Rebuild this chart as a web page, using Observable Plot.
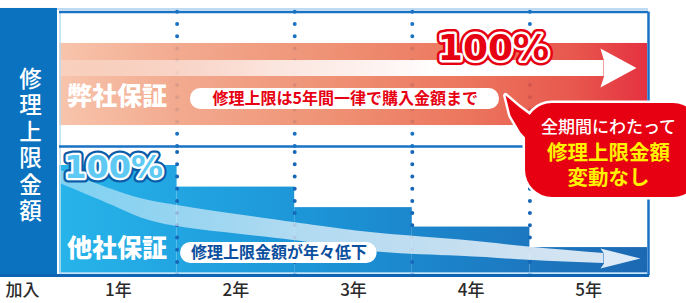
<!DOCTYPE html>
<html><head><meta charset="utf-8">
<script src="https://cdn.jsdelivr.net/npm/d3@7"></script>
<script src="https://cdn.jsdelivr.net/npm/@observablehq/plot@0.6"></script>
<style>
html,body{margin:0;padding:0;background:#fff;}
#chart{width:686px;height:303px;overflow:hidden;}
</style></head><body><div id="chart"></div>
<script>
// ---- data ----
const periodLabels = ["加入", "1年", "2年", "3年", "4年", "5年"];
const labelPos = [-0.315, 0.5, 1.5, 2.5, 3.5, 4.5];
const years = [1, 2, 3, 4, 5];
const ourLimit = [100, 100, 100, 100, 100];     // 弊社保証 (%)
const otherLimit = [100, 80, 61, 43, 24];       // 他社保証 (%)
const yearBoundaries = [1, 2, 3, 4];
const titleText = "修理上限金額";
const ourName = "弊社保証";
const otherName = "他社保証";
const ourNote = "修理上限は5年間一律で購入金額まで";
const otherNote = "修理上限金額が年々低下";
const calloutLines = ["全期間にわたって", "修理上限金額", "変動なし"];

// ---- layout (x in years, y in % units of the lower panel) ----
const JP = "'Noto Sans CJK JP', 'Noto Sans', sans-serif";
const NUM = "'DejaVu Sans', sans-serif";
const BLUE = "#1a72c4";
const Y0 = -2.78, YTOP = 245.37;
const PANEL_SPLIT = 117.6, PANEL_TOP = 242.1, XR = 5.0085;
const one = o => [o];

const otherBars = years.map((yr, i) => ({x1: yr - 1, x2: yr, v: otherLimit[i]}));
const ourBar = {x1: 0, x2: d3.max(years), y1: 137, y2: 213};

const bandPts = [
  {x: 0.01, hi: 95.4, lo: 83},
  {x: 0.52, hi: 75, lo: 59.5},
  {x: 1.0, hi: 63, lo: 43.5},
  {x: 1.99, hi: 47.2, lo: 30.6},
  {x: 2.73, hi: 37, lo: 19.6},
  {x: 3.41, hi: 31, lo: 16},
  {x: 3.99, hi: 24.5, lo: 12.2},
  {x: 4.63, hi: 18.5, lo: 9.3}
];
const bandHead = [
  {x: 4.63, y: 18.5}, {x: 4.60, y: 23.1}, {x: 4.94, y: 13.9}, {x: 4.60, y: 4.6}, {x: 4.63, y: 9.3}
];
const redHead = [
  {x: 4.63, y: 197.2}, {x: 4.60, y: 208.3}, {x: 4.906, y: 190.3}, {x: 4.60, y: 172.2}, {x: 4.63, y: 182.4}
];
const tail = [
  {x: 3.793, y: 164.8}, {x: 3.835, y: 146.3}, {x: 3.92, y: 130.6}, {x: 4.022, y: 118.5},
  {x: 4.26, y: 123.1}, {x: 4.26, y: 150.9}, {x: 4.116, y: 154.6}, {x: 4.005, y: 146.3}, {x: 3.903, y: 154.6}
];

const dots = {stroke: BLUE, strokeWidth: 4, strokeDasharray: "0,12.2", strokeLinecap: "round"};

const plot = Plot.plot({
  width: 686, height: 303,
  marginLeft: 59, marginRight: 39, marginTop: 8, marginBottom: 27,
  x: {domain: [0, 5], axis: null},
  y: {domain: [Y0, YTOP], axis: null},
  style: {background: "white", overflow: "visible"},
  marks: [
    // left title band
    Plot.rect(one({}), {x1: () => -0.502, x2: () => -0.017, y1: () => -3.7, y2: () => 245.4, fill: "#0b72bf"}),
    // top outer light line
    Plot.ruleY([245.0], {x1: -0.017, x2: XR, stroke: "#a9cfee", strokeWidth: 1.5}),
    // dotted year boundaries (upper panel, behind bar)
    Plot.ruleX(yearBoundaries, {y1: PANEL_SPLIT, y2: PANEL_TOP, ...dots}),
    // 弊社保証 bar
    Plot.rect(one(ourBar), {x1: "x1", x2: "x2", y1: "y1", y2: "y2", fill: "url(#redGrad)", fillOpacity: 0.9}),
    Plot.rect(one({}), {x1: () => 0, x2: () => 4.63, y1: () => 182.4, y2: () => 197.2, fill: "url(#shaftGrad)"}),
    Plot.line(redHead, {x: "x", y: "y", fill: "white", curve: "linear-closed"}),
    // 他社保証 bars
    Plot.rect(otherBars, {x1: "x1", x2: "x2", y1: 0, y2: "v", fill: "url(#blueGrad)"}),
    Plot.ruleX(yearBoundaries, {y1: -1, y2: PANEL_SPLIT, ...dots, stroke: "#1767b8"}),
    Plot.ruleY([0.5], {x1: 0, x2: 5, stroke: "#b6def4", strokeWidth: 1.5}),
    // declining trend arrow
    Plot.areaY(bandPts, {x: "x", y1: "lo", y2: "hi", curve: "natural", fill: "url(#bandGrad)"}),
    Plot.line(bandHead, {x: "x", y: "y", fill: "#dcebf7", curve: "linear-closed"}),
    // panel borders
    Plot.ruleX([0.005], {y1: -1.9, y2: PANEL_TOP, stroke: "#b8dcf4", strokeWidth: 1.5}),
    Plot.ruleY([PANEL_TOP, PANEL_SPLIT], {x1: 0, x2: XR, stroke: BLUE, strokeWidth: 2.5}),
    Plot.ruleX([XR], {y1: -1.9, y2: PANEL_TOP, stroke: BLUE, strokeWidth: 2.5}),
    Plot.ruleY([-1.9], {x1: -0.502, x2: XR + 0.01, stroke: "#0e63b3", strokeWidth: 3}),
    // series names
    Plot.text(one({}), {x: () => 0.49, y: () => 163, text: () => ourName, fill: "white", fontSize: 25, fontWeight: 900, fontFamily: JP}),
    Plot.text(one({}), {x: () => 0.49, y: () => 23.1, text: () => otherName, fill: "white", fontSize: 25, fontWeight: 900, fontFamily: JP}),
    // notes in pills
    Plot.rect(one({}), {x1: () => 1.114, x2: () => 3.741, y1: () => 151.9, y2: () => 171.3, fill: "white", rx: 10}),
    Plot.text(one({}), {x: () => 2.43, y: () => 161.6, text: () => ourNote, fill: "#e60012", fontSize: 16, fontWeight: 700, fontFamily: JP}),
    Plot.rect(one({}), {x1: () => 1.03, x2: () => 2.70, y1: () => 9.26, y2: () => 28.7, fill: "white", rx: 10}),
    Plot.text(one({}), {x: () => 1.866, y: () => 19, text: () => otherNote, fill: "#0b4f9e", fontSize: 16, fontWeight: 700, fontFamily: JP}),
    // 100% labels
    Plot.text(one({}), {x: () => 3.69, y: () => 208.3, text: () => ourLimit[ourLimit.length - 1] + "%", fill: "#e60012", stroke: "#e60012", strokeWidth: 10, strokeLinejoin: "round", fontSize: 36, fontWeight: 900, fontFamily: NUM}),
    Plot.text(one({}), {x: () => 3.69, y: () => 208.3, text: () => ourLimit[ourLimit.length - 1] + "%", fill: "#e60012", stroke: "white", strokeWidth: 5, strokeLinejoin: "round", fontSize: 36, fontWeight: 900, fontFamily: NUM}),
    Plot.text(one({}), {x: () => 0.46, y: () => 98, text: () => otherLimit[0] + "%", fill: "#0b5ca8", stroke: "#0b5ca8", strokeWidth: 9, strokeLinejoin: "round", fontSize: 32, fontWeight: 900, fontFamily: NUM}),
    Plot.text(one({}), {x: () => 0.46, y: () => 98, text: () => otherLimit[0] + "%", fill: "#5ec9f2", stroke: "white", strokeWidth: 4.5, strokeLinejoin: "round", fontSize: 32, fontWeight: 900, fontFamily: NUM}),
    // vertical title
    Plot.text(one({}), {x: () => -0.247, y: () => 119.4, text: () => titleText.split("").join("\n"), fill: "white", fontSize: 22.5, fontWeight: 500, lineHeight: 1.18, fontFamily: JP}),
    // callout bubble
    Plot.line(tail, {x: "x", y: "y", fill: "white", stroke: "white", strokeWidth: 5, curve: "linear-closed"}),
    Plot.rect(one({}), {x1: () => 3.963, x2: () => 5.45, y1: () => 70.4, y2: () => 157.4, fill: "white", stroke: "white", strokeWidth: 5, rx: 27}),
    Plot.line(tail, {x: "x", y: "y", fill: "#e60012", curve: "linear-closed"}),
    Plot.rect(one({}), {x1: () => 3.963, x2: () => 5.45, y1: () => 70.4, y2: () => 157.4, fill: "#e60012", rx: 27}),
    Plot.text(one({}), {x: () => 4.668, y: () => 135.6, text: () => calloutLines[0], fill: "white", fontSize: 17, fontWeight: 500, fontFamily: JP}),
    Plot.text(one({}), {x: () => 4.668, y: () => 111.6, text: () => calloutLines[1], fill: "#fff100", fontSize: 20.5, fontWeight: 700, fontFamily: JP}),
    Plot.text(one({}), {x: () => 4.668, y: () => 87.6, text: () => calloutLines[2], fill: "#fff100", fontSize: 20.5, fontWeight: 700, fontFamily: JP}),
    // period labels
    Plot.text(periodLabels, {x: (d, i) => labelPos[i], y: () => -15.7, text: d => d, fill: "#2a2a2a", fontSize: 17, fontWeight: 500, fontFamily: JP})
  ]
});

const defs = d3.select(plot).insert("defs", ":first-child");
defs.html(`
<linearGradient id="redGrad" x1="0" x2="1" y1="0" y2="0">
  <stop offset="0" stop-color="#f6bea3"/>
  <stop offset="0.2" stop-color="#f1a183"/>
  <stop offset="0.45" stop-color="#ed8767"/>
  <stop offset="0.7" stop-color="#e9664b"/>
  <stop offset="0.88" stop-color="#e5443a"/>
  <stop offset="1" stop-color="#e21b2b"/>
</linearGradient>
<linearGradient id="shaftGrad" x1="0" x2="1" y1="0" y2="0">
  <stop offset="0" stop-color="#fff" stop-opacity="0.2"/>
  <stop offset="0.4" stop-color="#fff" stop-opacity="0.75"/>
  <stop offset="0.7" stop-color="#fff" stop-opacity="1"/>
  <stop offset="1" stop-color="#fff" stop-opacity="1"/>
</linearGradient>
<linearGradient id="blueGrad" gradientUnits="userSpaceOnUse" x1="59" x2="648" y1="0" y2="0">
  <stop offset="0" stop-color="#27b4ea"/>
  <stop offset="0.45" stop-color="#1c93d6"/>
  <stop offset="1" stop-color="#1c68b3"/>
</linearGradient>
<linearGradient id="bandGrad" gradientUnits="userSpaceOnUse" x1="59" x2="640" y1="0" y2="0">
  <stop offset="0" stop-color="#fff" stop-opacity="0.4"/>
  <stop offset="0.4" stop-color="#fff" stop-opacity="0.65"/>
  <stop offset="1" stop-color="#fff" stop-opacity="0.85"/>
</linearGradient>`);

document.getElementById("chart").appendChild(plot);
</script>
</body></html>
